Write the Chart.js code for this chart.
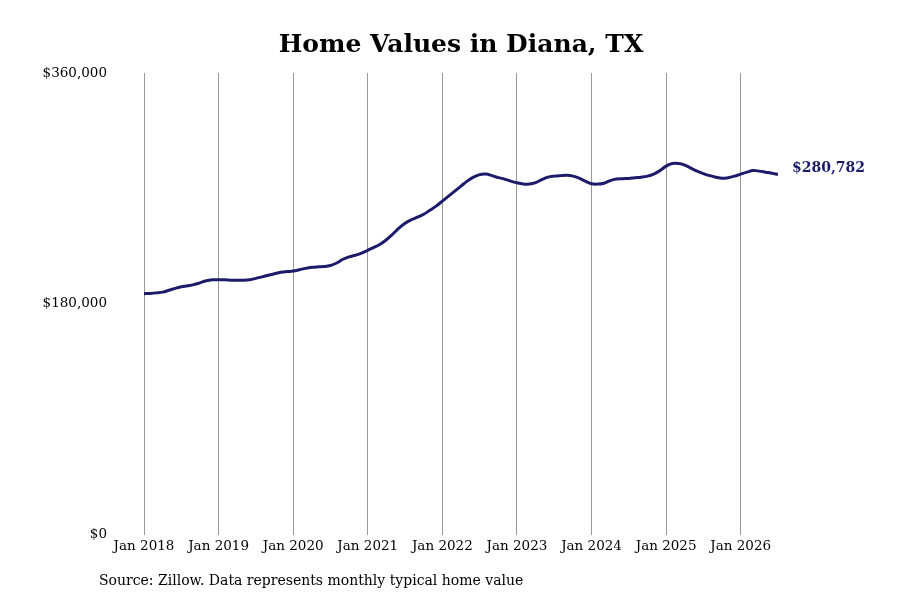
<!DOCTYPE html>
<html>
<head>
<meta charset="utf-8">
<script src="https://cdn.jsdelivr.net/npm/chart.js@4/dist/chart.umd.min.js"></script>
<style>
  html, body { margin: 0; padding: 0; background: #fff; }
  #wrap { width: 900px; height: 600px; }
</style>
</head>
<body>
<div id="wrap"><canvas id="homeChart" width="900" height="600"></canvas></div>
<script>
// Monthly typical home value, Jan 2018 .. Jul 2026 (month index 0 = Jan 2018)
const homeValues = [
  188000, 188200, 188600, 189200, 190600, 192100, 193300, 194100, 195000, 196400, 198000, 198800,
  198900, 198800, 198500, 198400, 198400, 198800, 199900, 201100, 202300, 203500, 204600, 205200,
  205600, 206600, 207700, 208500, 208900, 209100, 209900, 211900, 214800, 216700, 217900, 219500,
  221800, 224100, 226500, 230000, 234300, 239000, 242900, 245600, 247600, 249900, 253000, 256200,
  260100, 264000, 267900, 271800, 275700, 278800, 280800, 281200, 280000, 278400, 277300, 275700,
  274400, 273500, 273400, 274500, 276900, 278800, 279600, 280000, 280200, 279600, 278000, 275700,
  273700, 273400, 274100, 276100, 277300, 277600, 277800, 278400, 278800, 279600, 281200, 283900,
  287400, 289400, 289400, 288200, 285800, 283500, 281600, 280000, 278800, 278000, 278400, 279600,
  281200, 282700, 283900, 283500, 282700, 281900, 280782
];
const yearLabels = ["Jan 2018", "Jan 2019", "Jan 2020", "Jan 2021", "Jan 2022",
                    "Jan 2023", "Jan 2024", "Jan 2025", "Jan 2026"];
const yTicks = [0, 180000, 360000];

const lineColor = '#1b1b6a';
const fontFamily = "'DejaVu Serif', serif";

function money(v) {
  return '$' + Math.round(v).toLocaleString('en-US');
}

// texte de la source + étiquette de la dernière valeur
const extrasPlugin = {
  id: 'extras',
  afterDraw(chart) {
    const ctx = chart.ctx;
    const meta = chart.getDatasetMeta(0);
    const last = meta.data[meta.data.length - 1];
    ctx.save();
    ctx.fillStyle = lineColor;
    ctx.font = "bold 14px " + fontFamily;
    ctx.textAlign = 'left';
    ctx.textBaseline = 'middle';
    ctx.fillText(money(homeValues[homeValues.length - 1]), last.x + 14, last.y - 6);

    ctx.fillStyle = '#000';
    ctx.font = "14px " + fontFamily;
    ctx.fillText('Source: Zillow. Data represents monthly typical home value', 99, 581);
    ctx.restore();
  }
};

const points = homeValues.map((v, i) => ({ x: i, y: v }));

new Chart(document.getElementById('homeChart'), {
  type: 'line',
  data: {
    datasets: [{
      data: points,
      borderColor: lineColor,
      borderWidth: 3,
      pointRadius: 0,
      tension: 0.4,
      fill: false
    }]
  },
  options: {
    responsive: false,
    animation: false,
    layout: { padding: { left: 42, right: 122, top: 0, bottom: 41 } },
    plugins: {
      legend: { display: false },
      tooltip: { enabled: false },
      title: {
        display: true,
        fullSize: false,
        text: 'Home Values in Diana, TX',
        color: '#000',
        font: { family: fontFamily, size: 25, weight: 'bold' },
        padding: { top: 30, bottom: 13 }
      }
    },
    scales: {
      x: {
        type: 'linear',
        min: 0,
        max: homeValues.length - 1,
        grid: { display: true, color: '#999', lineWidth: 1, drawTicks: false },
        border: { display: false },
        ticks: {
          stepSize: 12,
          includeBounds: false,
          autoSkip: false,
          maxRotation: 0,
          padding: 4,
          color: '#000',
          font: { family: fontFamily, size: 13.5 },
          callback: v => yearLabels[v / 12] || ''
        }
      },
      y: {
        min: yTicks[0],
        max: yTicks[yTicks.length - 1],
        afterBuildTicks: axis => { axis.ticks = yTicks.map(v => ({ value: v })); },
        afterFit: axis => { axis.width = 102; },
        grid: { display: false, drawTicks: false },
        border: { display: false },
        ticks: {
          padding: 37,
          color: '#000',
          font: { family: fontFamily, size: 13.5 },
          callback: v => money(v)
        }
      }
    }
  },
  plugins: [extrasPlugin]
});
</script>
</body>
</html>
